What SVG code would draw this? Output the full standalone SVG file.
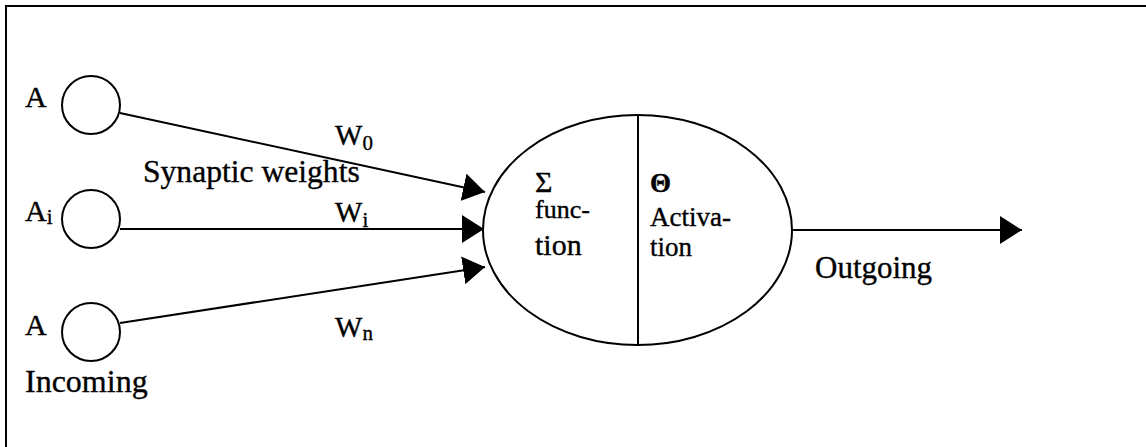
<svg xmlns="http://www.w3.org/2000/svg" width="1146" height="447" viewBox="0 0 1146 447">
  <style>
    .ln { stroke: #000; stroke-width: 2; fill: none; }
    .t { font-family: "Liberation Serif", "Times New Roman", serif; fill: #000; stroke: #000; stroke-width: 0.35; }
  </style>
  <defs>
    <marker id="ah" markerUnits="userSpaceOnUse" markerWidth="22" markerHeight="28" refX="22" refY="14" orient="auto">
      <path d="M0,0 L22,14 L0,28 Z" fill="#000"/>
    </marker>
  </defs>
  <rect width="1146" height="447" fill="#fff"/>
  <g id="frame">
    <path class="ln" d="M6,447 V6 H1146"/>
  </g>
  <g id="input-0">
    <circle class="ln" cx="91" cy="105" r="29"/>
    <text class="t" x="25" y="107" font-size="30">A</text>
  </g>
  <g id="input-i">
    <circle class="ln" cx="91" cy="219" r="29"/>
    <text class="t" x="25" y="221" font-size="30">A<tspan font-size="21" dy="3">i</tspan></text>
  </g>
  <g id="input-n">
    <circle class="ln" cx="91" cy="332" r="29"/>
    <text class="t" x="25" y="335" font-size="30">A</text>
    <text class="t" x="25" y="392" font-size="32">Incoming</text>
  </g>
  <g id="neuron">
    <ellipse class="ln" cx="637.5" cy="230" rx="154.5" ry="115"/>
    <line class="ln" x1="638" y1="115" x2="638" y2="345"/>
    <text class="t" x="535" y="192" font-size="30">Σ</text>
    <text class="t" x="535" y="218" font-size="26">func-</text>
    <text class="t" x="535" y="255" font-size="30">tion</text>
    <text class="t" x="650" y="192" font-size="27" font-weight="bold">Θ</text>
    <text class="t" x="650" y="226" font-size="27">Activa-</text>
    <text class="t" x="650" y="256" font-size="27">tion</text>
  </g>
  <g id="connectors">
    <line class="ln" x1="120" y1="113" x2="485" y2="192" marker-end="url(#ah)"/>
    <line class="ln" x1="120" y1="229" x2="484" y2="229" marker-end="url(#ah)"/>
    <line class="ln" x1="120" y1="323" x2="485" y2="267" marker-end="url(#ah)"/>
    <line class="ln" x1="792" y1="230" x2="1022" y2="230" marker-end="url(#ah)"/>
  </g>
  <g id="labels">
    <text class="t" x="143" y="182" font-size="31.6">Synaptic weights</text>
    <text class="t" x="335" y="145" font-size="29">W<tspan font-size="21" dy="5">0</tspan></text>
    <text class="t" x="335" y="222" font-size="29">W<tspan font-size="21" dy="5">i</tspan></text>
    <text class="t" x="335" y="337" font-size="29">W<tspan font-size="21" dy="3">n</tspan></text>
    <text class="t" x="815" y="278" font-size="31">Outgoing</text>
  </g>
</svg>
